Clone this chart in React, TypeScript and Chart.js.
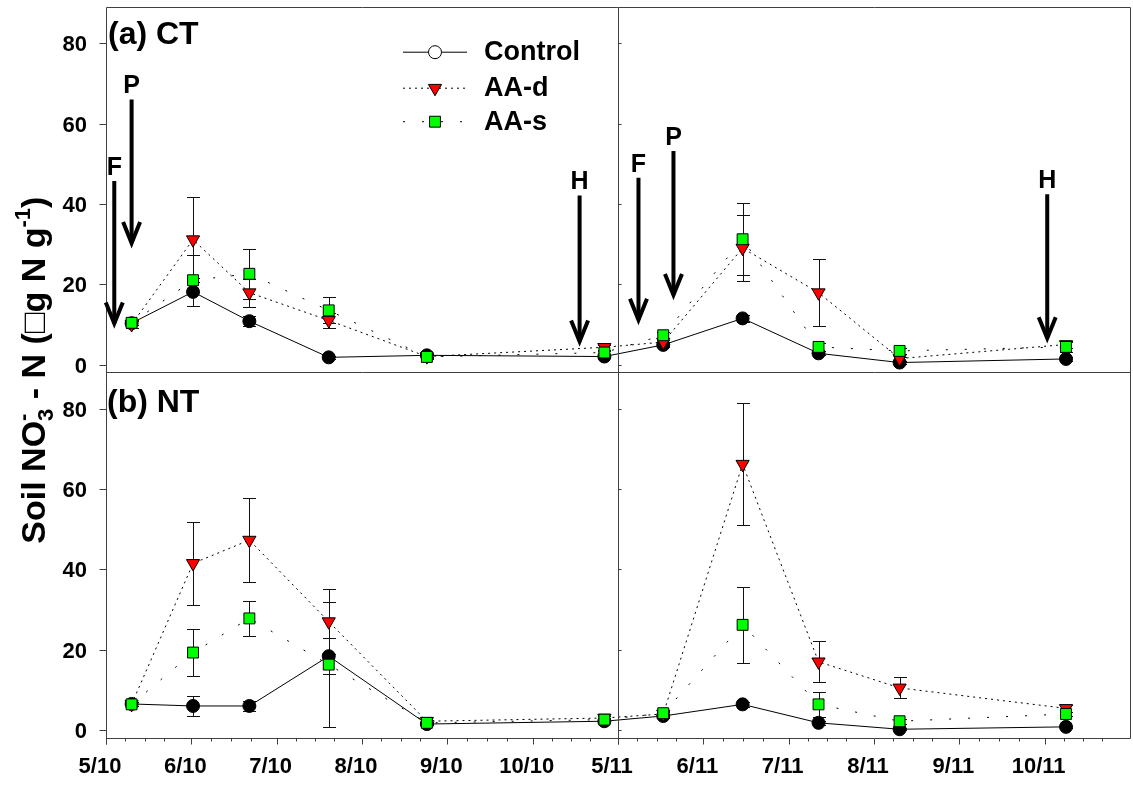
import React, { useEffect, useRef } from "react";
import { Chart, registerables } from "chart.js";

Chart.register(...registerables);

const W = 1133;
const H = 786;
const FONT = "Arial, 'Liberation Sans', Helvetica, sans-serif";

// Sampling dates in months since 1 May 2010. The axis skips Nov 2010 - Apr 2011,
// so 6 stands for 1 May 2011.
const sampleMonths = [0.3, 1.02, 1.68, 2.61, 3.76, 5.84, 6.53, 7.46, 8.35, 9.3, 11.25];

const monthTicks = [0, 1, 2, 3, 4, 5, 6, 7, 8, 9, 10, 11];
const monthLabels = ["5/10", "6/10", "7/10", "8/10", "9/10", "10/10", "5/11", "6/11", "7/11", "8/11", "9/11", "10/11"];
const monthDays = [31, 30, 31, 31, 30, 31, 31, 30, 31, 31, 30, 31];
const yTicks = [0, 20, 40, 60, 80];

// (a) CT — soil NO3- - N, mean and error
const ctControl = [10.3, 18.1, 10.8, 1.8, 2.3, 2.0, 4.9, 11.5, 2.8, 0.5, 1.4];
const ctControlErr = [0.5, 3.5, 1.2, 0.4, 0.4, 0.4, 0.6, 0.8, 0.5, 0.3, 0.4];
const ctAAd = [10.0, 31.1, 17.9, 11.0, 2.0, 4.3, 5.6, 29.0, 17.9, 1.5, 5.0];
const ctAAdErr = [0.8, 10.6, 3.5, 1.8, 0.4, 0.6, 0.6, 8.3, 8.3, 0.5, 0.9];
const ctAAs = [10.4, 21.0, 22.6, 13.5, 1.9, 3.0, 7.3, 31.2, 4.4, 3.4, 4.4];
const ctAAsErr = [0.6, 6.3, 6.2, 3.2, 0.4, 0.5, 0.8, 9.0, 0.9, 0.8, 1.2];

// (b) NT
const ntControl = [6.5, 6.0, 6.0, 18.4, 1.5, 2.2, 3.5, 6.4, 1.8, 0.2, 0.8];
const ntControlErr = [0.5, 2.6, 1.2, 4.5, 0.3, 0.4, 0.5, 0.6, 0.5, 0.2, 0.3];
const ntAAd = [6.4, 41.5, 47.3, 27.0, 2.2, 3.0, 4.0, 66.2, 17.0, 10.5, 5.4];
const ntAAdErr = [0.5, 10.3, 10.4, 8.0, 0.4, 0.4, 0.5, 15.2, 5.1, 2.6, 0.8];
const ntAAs = [6.4, 19.3, 27.8, 16.3, 1.8, 2.6, 4.2, 26.2, 6.4, 2.2, 4.0];
const ntAAsErr = [0.5, 5.9, 4.4, 15.5, 0.3, 0.4, 0.5, 9.4, 3.1, 0.6, 0.6];

// Management events in the CT panel: F = fertilization, P = planting, H = harvest
const eventLabels = ["F", "P", "H", "F", "P", "H"];
const eventMonths = [0.097, 0.3, 5.55, 6.24, 6.65, 11.03];
const eventTips = [9.5, 29.5, 5.0, 10.4, 16.6, 5.8];
const eventTails = [45.7, 66.0, 42.1, 46.5, 53.2, 42.4];

const legendNames = ["Control", "AA-d", "AA-s"];

type SeriesStyle = {
  name: string;
  fill: string;
  pointStyle: "circle" | "triangle" | "rect";
  radius: number;
  rotation: number;
  dash: number[];
  order: number;
};

const styles: SeriesStyle[] = [
  { name: legendNames[0], fill: "#000000", pointStyle: "circle", radius: 6.5, rotation: 0, dash: [], order: 2 },
  { name: legendNames[1], fill: "#ff0000", pointStyle: "triangle", radius: 7.6, rotation: 180, dash: [2, 4], order: 1 },
  { name: legendNames[2], fill: "#00ff00", pointStyle: "rect", radius: 7.7, rotation: 0, dash: [2, 17], order: 0 },
];

const panels = [
  { axis: "yTop", means: [ctControl, ctAAd, ctAAs], errs: [ctControlErr, ctAAdErr, ctAAsErr] },
  { axis: "yBot", means: [ntControl, ntAAd, ntAAs], errs: [ntControlErr, ntAAdErr, ntAAsErr] },
];

function buildDatasets() {
  const sets: any[] = [];
  panels.forEach((p) => {
    styles.forEach((s, k) => {
      sets.push({
        label: s.name,
        data: p.means[k].map((v, i) => ({ x: sampleMonths[i], y: v })),
        yAxisID: p.axis,
        borderColor: "#000",
        borderWidth: 1,
        borderDash: s.dash,
        pointStyle: s.pointStyle,
        pointRadius: s.radius,
        pointRotation: s.rotation,
        pointBackgroundColor: s.fill,
        pointBorderColor: "#000",
        pointBorderWidth: 1,
        tension: 0,
        fill: false,
        order: s.order,
      });
    });
  });
  return sets;
}

function seg(ctx: CanvasRenderingContext2D, x1: number, y1: number, x2: number, y2: number) {
  ctx.beginPath();
  ctx.moveTo(x1, y1);
  ctx.lineTo(x2, y2);
  ctx.stroke();
}

function drawMarker(ctx: CanvasRenderingContext2D, s: SeriesStyle, x: number, y: number, fill: string) {
  ctx.save();
  ctx.fillStyle = fill;
  ctx.strokeStyle = "#000";
  ctx.lineWidth = 1;
  ctx.setLineDash([]);
  ctx.beginPath();
  if (s.pointStyle === "circle") {
    ctx.arc(x, y, s.radius, 0, Math.PI * 2);
  } else if (s.pointStyle === "triangle") {
    const r = s.radius;
    ctx.moveTo(x, y + r);
    ctx.lineTo(x - r * 0.866, y - r / 2);
    ctx.lineTo(x + r * 0.866, y - r / 2);
    ctx.closePath();
  } else {
    const h = s.radius * Math.SQRT1_2;
    ctx.rect(x - h, y - h, 2 * h, 2 * h);
  }
  ctx.fill();
  ctx.stroke();
  ctx.restore();
}

const decorPlugin = {
  id: "panelDecor",
  beforeDatasetsDraw(chart: any) {
    const ctx: CanvasRenderingContext2D = chart.ctx;
    const xs = chart.scales.x;
    ctx.save();
    ctx.strokeStyle = "#111";
    ctx.lineWidth = 1;
    panels.forEach((p) => {
      const ys = chart.scales[p.axis];
      p.means.forEach((vals, k) => {
        vals.forEach((v, i) => {
          const e = p.errs[k][i];
          const x = Math.round(xs.getPixelForValue(sampleMonths[i])) + 0.5;
          const yHi = Math.round(ys.getPixelForValue(v + e)) + 0.5;
          const yLo = Math.round(ys.getPixelForValue(v - e)) + 0.5;
          seg(ctx, x, yHi, x, yLo);
          seg(ctx, x - 6.5, yHi, x + 6.5, yHi);
          seg(ctx, x - 6.5, yLo, x + 6.5, yLo);
        });
      });
    });
    ctx.restore();
  },
  afterDraw(chart: any) {
    const ctx: CanvasRenderingContext2D = chart.ctx;
    const { left, right, top, bottom } = chart.chartArea;
    const xs = chart.scales.x;
    const yt = chart.scales.yTop;
    const yb = chart.scales.yBot;
    const px = (v: number) => Math.round(v) + 0.5;
    const L = px(left);
    const R = px(right);
    const T = px(top);
    const B = px(bottom);
    const M = px(yt.bottom);
    const J = px(xs.getPixelForValue(6));

    ctx.save();
    ctx.strokeStyle = "#404040";
    ctx.lineWidth = 1;
    ctx.setLineDash([]);
    // frame of the four panels
    seg(ctx, L, T, R, T);
    seg(ctx, L, M, R, M);
    seg(ctx, L, B, R, B);
    seg(ctx, L, T, L, B + 6);
    seg(ctx, J, T, J, B + 6);
    seg(ctx, R, T, R, B);

    // y ticks: outward on the left axis, small inward ticks at the break
    ctx.fillStyle = "#000";
    ctx.font = `bold 22px ${FONT}`;
    ctx.textAlign = "right";
    ctx.textBaseline = "middle";
    [yt, yb].forEach((s) => {
      yTicks.forEach((v) => {
        const y = px(s.getPixelForValue(v));
        seg(ctx, L - 7, y, L, y);
        seg(ctx, J, y, J + 3, y);
        ctx.fillText(String(v), left - 19, y + 1);
      });
    });

    // x ticks: months (major) and weeks (minor)
    monthTicks.forEach((m, k) => {
      const x = px(xs.getPixelForValue(m));
      seg(ctx, x, B, x, B + 6);
      [7, 14, 21].forEach((d) => {
        const xm = px(xs.getPixelForValue(m + d / monthDays[k]));
        seg(ctx, xm, B, xm, B + 3);
      });
    });
    ctx.restore();

    // event arrows in the CT panel
    ctx.save();
    ctx.strokeStyle = "#000";
    ctx.fillStyle = "#000";
    ctx.lineWidth = 4;
    ctx.lineJoin = "miter";
    ctx.font = `bold 25px ${FONT}`;
    ctx.textAlign = "center";
    ctx.textBaseline = "alphabetic";
    eventLabels.forEach((lab, i) => {
      const x = xs.getPixelForValue(eventMonths[i]);
      const yTip = yt.getPixelForValue(eventTips[i]);
      const yTail = yt.getPixelForValue(eventTails[i]);
      seg(ctx, x, yTail, x, yTip - 3);
      ctx.beginPath();
      ctx.moveTo(x - 8.5, yTip - 24);
      ctx.lineTo(x, yTip - 3);
      ctx.lineTo(x + 8.5, yTip - 24);
      ctx.stroke();
      ctx.fillText(lab, x, yTail - 6);
    });
    ctx.restore();

    // panel titles
    ctx.save();
    ctx.fillStyle = "#000";
    ctx.font = `bold 32px ${FONT}`;
    ctx.textAlign = "left";
    ctx.textBaseline = "alphabetic";
    ctx.fillText("(a) CT", left + 2, top + 37.5);
    ctx.fillText("(b) NT", left + 1, yb.top + 40);
    ctx.restore();

    // legend
    ctx.save();
    const lx1 = left + 297;
    const lx2 = left + 361;
    const lm = left + 329;
    const rows = [top + 45, top + 81, top + 114.5];
    styles.forEach((s, k) => {
      const y = rows[k];
      ctx.strokeStyle = "#000";
      ctx.lineWidth = 1;
      ctx.setLineDash(s.dash);
      seg(ctx, lx1, y + 0.5, lx2, y + 0.5);
      ctx.setLineDash([]);
      drawMarker(ctx, s, lm, y + 0.5, k === 0 ? "#fff" : s.fill);
      ctx.fillStyle = "#000";
      ctx.font = `bold 27px ${FONT}`;
      ctx.textAlign = "left";
      ctx.textBaseline = "middle";
      ctx.fillText(s.name, left + 378, y + 1);
    });
    ctx.restore();

    // y-axis title, rotated, with sub- and superscripts
    ctx.save();
    ctx.fillStyle = "#000";
    ctx.textBaseline = "alphabetic";
    ctx.textAlign = "left";
    const big = `bold 34px ${FONT}`;
    const small = `bold 22px ${FONT}`;
    type Run = { t: string; f: string; dy: number; stackNext?: boolean };
    const runs: Run[] = [
      { t: "Soil NO", f: big, dy: 0 },
      { t: "3", f: small, dy: 8, stackNext: true },
      { t: "-", f: small, dy: -15 },
      { t: " - N (", f: big, dy: 0 },
      { t: "\u25A1", f: big, dy: 0 },
      { t: "g N g", f: big, dy: 0 },
      { t: "-1", f: small, dy: -15 },
      { t: ")", f: big, dy: 0 },
    ];
    const widths = runs.map((r) => {
      ctx.font = r.f;
      return ctx.measureText(r.t).width;
    });
    let total = 0;
    runs.forEach((r, i) => {
      if (r.stackNext) return;
      const prev = runs[i - 1];
      total += prev && prev.stackNext ? Math.max(widths[i - 1], widths[i]) : widths[i];
    });
    ctx.translate(45, yt.bottom - 2);
    ctx.rotate(-Math.PI / 2);
    let cx = -total / 2;
    runs.forEach((r, i) => {
      ctx.font = r.f;
      ctx.fillText(r.t, cx, r.dy);
      if (r.stackNext) return;
      const prev = runs[i - 1];
      cx += prev && prev.stackNext ? Math.max(widths[i - 1], widths[i]) : widths[i];
    });
    ctx.restore();
  },
};

const tickFont = { family: FONT, size: 22, weight: "bold" as const };

function yAxis() {
  return {
    type: "linear" as const,
    position: "left" as const,
    stack: "panels",
    stackWeight: 1,
    min: -1.9,
    max: 89.1,
    grid: { display: false, drawTicks: false },
    border: { display: false },
    afterBuildTicks: (s: any) => {
      s.ticks = yTicks.map((v) => ({ value: v }));
    },
    afterFit: (s: any) => {
      s.width = 106;
    },
    // tick labels are painted by the decor plugin
    ticks: { display: false },
  };
}

export default function App() {
  const ref = useRef<HTMLCanvasElement>(null);

  useEffect(() => {
    const canvas = ref.current;
    if (!canvas) return;
    const chart = new Chart(canvas, {
      type: "line",
      data: { datasets: buildDatasets() },
      options: {
        responsive: false,
        animation: false,
        devicePixelRatio: 1,
        events: [],
        layout: { autoPadding: false, padding: { left: 0, top: 6.7, right: 3, bottom: 0 } },
        plugins: { legend: { display: false }, tooltip: { enabled: false } },
        scales: {
          x: {
            type: "linear",
            position: "bottom",
            min: 0,
            max: 12,
            grid: { display: false, drawTicks: false },
            border: { display: false },
            afterBuildTicks: (s: any) => {
              s.ticks = monthTicks.map((v) => ({ value: v }));
            },
            afterFit: (s: any) => {
              s.height = 48.3;
            },
            ticks: {
              font: tickFont,
              color: "#000",
              padding: 16,
              labelOffset: -6,
              maxRotation: 0,
              autoSkip: false,
              callback: (_v: any, i: number) => monthLabels[i] ?? "",
            },
          },
          yBot: yAxis(),
          yTop: yAxis(),
        },
      } as any,
      plugins: [decorPlugin],
    });
    return () => chart.destroy();
  }, []);

  return (
    <div style={{ position: "absolute", left: 0, top: 0, width: W, height: H, background: "#fff" }}>
      <canvas ref={ref} width={W} height={H} style={{ display: "block", width: W, height: H }} />
    </div>
  );
}
